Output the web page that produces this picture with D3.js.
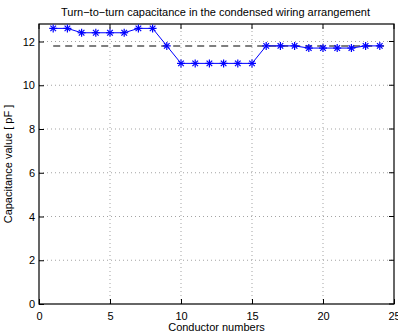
<!DOCTYPE html>
<html lang="en">
<head>
    <meta charset="UTF-8">
    <title>Turn-to-turn capacitance</title>
    <script src="https://cdnjs.cloudflare.com/ajax/libs/d3/7.8.5/d3.min.js"></script>
    <style>
        body{
            margin:0;
            background:#fff;
            font-family:"Liberation Sans", Arial, sans-serif;
        }
        svg text{
            fill:#000;
        }
    </style>
</head>
<body>
    <svg id="chart" width="398" height="335"></svg>
    <script>
// conductor numbers and measured capacitance (pF)
const conductors = [1,2,3,4,5,6,7,8,9,10,11,12,13,14,15,16,17,18,19,20,21,22,23,24];
const capacitance = [12.6,12.6,12.4,12.4,12.4,12.4,12.6,12.6,11.8,11.0,11.0,11.0,11.0,11.0,11.0,11.8,11.8,11.8,11.7,11.7,11.7,11.7,11.8,11.8];
const meanValue = 11.8;
const meanSpan = [1, 24.3];
const xTicks = [0,5,10,15,20,25];
const yTicks = [0,2,4,6,8,10,12];

const svg = d3.select("#chart");
const margin = {left:39, right:4, top:24, bottom:31};
const W = 398, H = 335;

const x = d3.scaleLinear().domain([0,25]).range([margin.left, W-margin.right]);
const y = d3.scaleLinear().domain([0,12.8]).range([H-margin.bottom, margin.top]);

// grid
const grid = svg.append("g")
    .attr("stroke","#000")
    .attr("stroke-width",0.6)
    .attr("stroke-dasharray","1,3")
    .attr("opacity",0.6);
grid.selectAll(".gx").data(xTicks.slice(1,-1)).enter().append("line")
    .attr("x1",d=>x(d)).attr("x2",d=>x(d))
    .attr("y1",y(0)).attr("y2",y(12.8));
grid.selectAll(".gy").data(yTicks.slice(1)).enter().append("line")
    .attr("y1",d=>y(d)).attr("y2",d=>y(d))
    .attr("x1",x(0)).attr("x2",x(25));

// axes with inward ticks
const xAxis = svg.append("g")
    .attr("transform",`translate(0,${y(0)})`)
    .call(d3.axisBottom(x).tickValues(xTicks).tickSizeInner(-5).tickSizeOuter(0).tickPadding(8));
const yAxis = svg.append("g")
    .attr("transform",`translate(${x(0)},0)`)
    .call(d3.axisLeft(y).tickValues(yTicks).tickSizeInner(-5).tickSizeOuter(0).tickPadding(4));
[xAxis,yAxis].forEach(a=>{
    a.select(".domain").remove();
    a.selectAll("text").attr("font-size","11px").attr("font-family","Liberation Sans, Arial, sans-serif");
});
// top & right ticks
svg.append("g").selectAll("line").data(xTicks).enter().append("line")
    .attr("x1",d=>x(d)).attr("x2",d=>x(d))
    .attr("y1",y(12.8)).attr("y2",y(12.8)+5)
    .attr("stroke","#000");
svg.append("g").selectAll("line").data(yTicks).enter().append("line")
    .attr("x1",x(25)).attr("x2",x(25)-5)
    .attr("y1",d=>y(d)).attr("y2",d=>y(d))
    .attr("stroke","#000");

// frame
svg.append("rect")
    .attr("x",x(0)).attr("y",y(12.8))
    .attr("width",x(25)-x(0)).attr("height",y(0)-y(12.8))
    .attr("fill","none").attr("stroke","#000").attr("stroke-width",1.2);

// mean dashed line
svg.append("line")
    .attr("x1",x(meanSpan[0])).attr("x2",x(meanSpan[1]))
    .attr("y1",y(meanValue)).attr("y2",y(meanValue))
    .attr("stroke","#555").attr("stroke-width",1.5)
    .attr("stroke-dasharray","7,5");

// data line
const pts = conductors.map((c,i)=>[c,capacitance[i]]);
svg.append("path")
    .datum(pts)
    .attr("fill","none")
    .attr("stroke","#0000ff")
    .attr("stroke-width",1)
    .attr("d",d3.line().x(d=>x(d[0])).y(d=>y(d[1])));

// asterisk markers
const star = svg.append("g").attr("stroke","#0000ff").attr("stroke-width",1.2);
pts.forEach(p=>{
    const cx = x(p[0]), cy = y(p[1]), r = 4;
    star.append("line").attr("x1",cx-r).attr("x2",cx+r).attr("y1",cy).attr("y2",cy);
    star.append("line").attr("x1",cx).attr("x2",cx).attr("y1",cy-r).attr("y2",cy+r);
    star.append("line").attr("x1",cx-r*0.7).attr("x2",cx+r*0.7).attr("y1",cy-r*0.7).attr("y2",cy+r*0.7);
    star.append("line").attr("x1",cx-r*0.7).attr("x2",cx+r*0.7).attr("y1",cy+r*0.7).attr("y2",cy-r*0.7);
});

// labels
svg.append("text")
    .attr("x",(x(0)+x(25))/2 - 1).attr("y",16)
    .attr("text-anchor","middle")
    .attr("font-size","11px")
    .text("Turn\u2212to\u2212turn capacitance in the condensed wiring arrangement");
svg.append("text")
    .attr("x",(x(0)+x(25))/2).attr("y",331)
    .attr("text-anchor","middle")
    .attr("font-size","11px")
    .text("Conductor numbers");
svg.append("text")
    .attr("transform",`translate(12,${(y(0)+y(12.8))/2}) rotate(-90)`)
    .attr("text-anchor","middle")
    .attr("font-size","11px")
    .text("Capacitance value [ pF ]");
    </script>
</body>
</html>
